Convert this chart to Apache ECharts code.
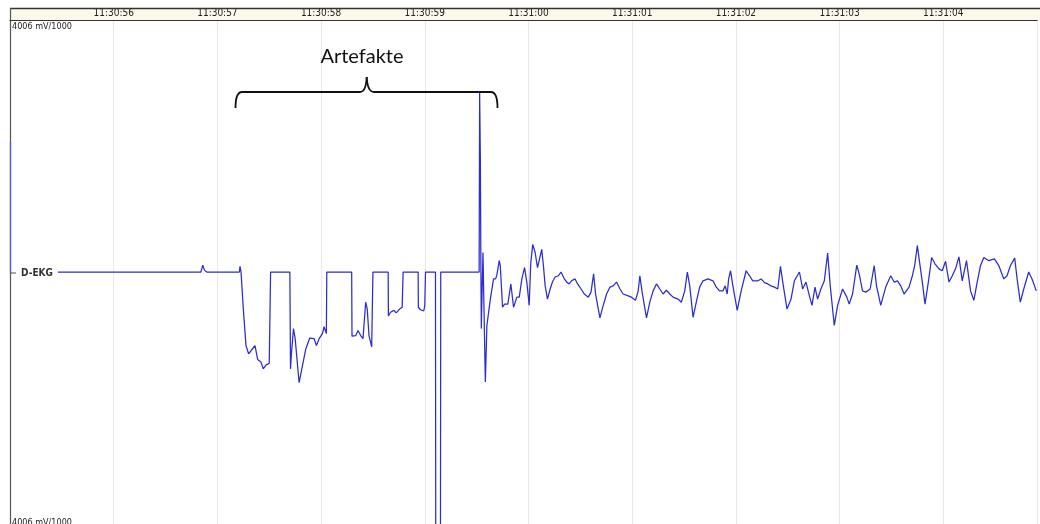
<!DOCTYPE html>
<html>
<head>
<meta charset="utf-8">
<script src="https://cdn.jsdelivr.net/npm/echarts@6/dist/echarts.min.js"></script>
<style>
html,body{margin:0;padding:0;background:#fff;}
#chart{width:1040px;height:524px;}
</style>
</head>
<body>
<div id="chart"></div>
<script>
// time in seconds after 11:30:00
var tickSeconds = [56, 57, 58, 59, 60, 61, 62, 63, 64];
var tickLabels = ['11:30:56','11:30:57','11:30:58','11:30:59','11:31:00','11:31:01','11:31:02','11:31:03','11:31:04'];
var channelName = 'D-EKG';
var scaleLabel = '4006 mV/1000';
var annotationLabel = 'Artefakte';
var scaleMax = 4.006;

var timeSec = [
55.462,56.841,56.859,56.875,56.897,57.212,57.218,57.228,57.250,57.276,
57.301,57.339,57.363,57.388,57.420,57.442,57.468,57.500,57.510,57.513,
57.699,57.705,57.714,57.734,57.750,57.788,57.853,57.891,57.933,57.955,
57.981,58.013,58.029,58.051,58.055,58.295,58.298,58.334,58.356,58.382,
58.404,58.430,58.445,58.462,58.488,58.500,58.647,58.649,58.670,58.702,
58.724,58.757,58.782,58.791,58.936,58.938,58.959,58.990,59.000,59.007,
59.103,59.106,59.151,59.154,59.524,59.529,59.536,59.541,59.545,59.561,
59.584,59.599,59.632,59.663,59.683,59.695,59.718,59.728,59.750,59.769,
59.801,59.830,59.856,59.888,59.911,59.936,59.962,59.984,60.007,60.022,
60.041,60.064,60.087,60.106,60.128,60.144,60.161,60.183,60.209,60.231,
60.257,60.288,60.314,60.346,60.368,60.391,60.416,60.449,60.474,60.507,
60.538,60.577,60.603,60.628,60.647,60.689,60.721,60.753,60.786,60.817,
60.849,60.882,60.913,60.962,60.993,61.032,61.058,61.074,61.096,61.138,
61.170,61.202,61.234,61.266,61.298,61.330,61.363,61.394,61.442,61.474,
61.507,61.532,61.555,61.587,61.618,61.651,61.683,61.731,61.779,61.811,
61.843,61.875,61.897,61.916,61.930,61.949,61.971,62.013,62.051,62.099,
62.132,62.163,62.212,62.243,62.276,62.308,62.339,62.372,62.404,62.430,
62.452,62.493,62.532,62.564,62.613,62.644,62.676,62.709,62.734,62.763,
62.788,62.820,62.853,62.885,62.910,62.949,62.981,63.029,63.070,63.093,
63.125,63.166,63.189,63.221,63.253,63.295,63.308,63.334,63.356,63.397,
63.445,63.493,63.526,63.558,63.590,63.622,63.670,63.702,63.724,63.750,
63.772,63.798,63.824,63.856,63.888,63.920,63.959,63.990,64.022,64.055,
64.087,64.118,64.151,64.183,64.224,64.263,64.295,64.327,64.359,64.391,
64.439,64.493,64.536,64.584,64.615,64.647,64.689,64.712,64.743,64.776,
64.824,64.856,64.897
];

var ekgMilliVolt = [
0,0,0.11,0.03,0,0,0.09,0,-0.59,-1.17,
-1.30,-1.22,-1.17,-1.39,-1.43,-1.54,-1.48,-1.45,-1.44,0,
0,-1.54,-1.30,-0.90,-1.06,-1.76,-1.22,-1.05,-1.06,-1.17,
-1.06,-0.98,-0.87,-0.98,0,0,-1.02,-1.01,-0.93,-1.01,
-1.06,-0.48,-0.59,-1.01,-1.19,0,0,-0.70,-0.64,-0.61,
-0.65,-0.59,-0.56,0,0,-0.56,-0.60,-0.62,-0.53,0,
0,-4.6,-4.6,0,0,2.85,1.79,0.10,-0.90,0.31,
-1.75,-0.85,-0.43,-0.11,-0.11,-0.05,0.18,0.10,-0.56,-0.51,
-0.51,-0.19,-0.56,-0.40,-0.40,-0.11,0.07,-0.16,-0.53,0.15,
0.44,0.31,0.07,0.10,0.36,0.10,-0.22,-0.43,-0.27,-0.16,
-0.08,-0.06,0.00,-0.11,-0.16,-0.19,-0.14,-0.11,-0.19,-0.27,
-0.35,-0.40,-0.32,-0.03,-0.35,-0.73,-0.53,-0.35,-0.24,-0.22,
-0.16,-0.27,-0.35,-0.38,-0.40,-0.45,-0.30,-0.06,-0.32,-0.73,
-0.48,-0.30,-0.19,-0.27,-0.35,-0.29,-0.35,-0.40,-0.43,-0.48,
-0.30,0.00,-0.22,-0.72,-0.48,-0.24,-0.14,-0.11,-0.14,-0.24,
-0.30,-0.30,-0.22,-0.35,-0.11,0.02,-0.22,-0.61,-0.30,0.02,
-0.06,-0.14,-0.14,-0.11,-0.17,-0.19,-0.22,-0.24,-0.27,0.09,
-0.16,-0.59,-0.43,-0.14,0.00,-0.27,-0.16,-0.38,-0.53,-0.24,
-0.43,-0.27,-0.14,0.30,-0.22,-0.85,-0.53,-0.27,-0.40,-0.51,
-0.35,0.11,-0.03,-0.30,-0.32,-0.27,-0.30,0.10,-0.22,-0.53,
-0.24,-0.06,-0.16,-0.14,-0.22,-0.35,-0.24,-0.06,0.10,0.42,
0.15,-0.16,-0.51,-0.16,0.23,0.13,0.05,0.02,0.17,-0.16,
-0.06,0.05,0.24,-0.14,0.18,-0.30,-0.45,-0.16,0.10,0.23,
0.18,0.21,0.10,-0.11,-0.06,0.10,0.22,-0.11,-0.48,-0.27,
0.00,-0.11,-0.30
];

var n = Math.min(timeSec.length, ekgMilliVolt.length);
var seriesData = [];
for (var i = 0; i < n; i++) seriesData.push([timeSec[i], ekgMilliVolt[i]]);

var labelFont = '"Liberation Sans Narrow", "DejaVu Sans Condensed", "Liberation Sans", sans-serif';
var bracketStyle = {stroke: '#111', lineWidth: 1.8, fill: null};

var chart = echarts.init(document.getElementById('chart'), null, {renderer: 'canvas'});
var option = {
  animation: false,
  backgroundColor: '#ffffff',
  grid: {left: 10, right: 0, top: 20, bottom: -2, containLabel: false},
  xAxis: {
    type: 'value',
    position: 'top',
    min: 55,
    max: 55 + 1030 / 104,
    interval: 1,
    axisLine: {show: true, onZero: false, lineStyle: {color: '#333', width: 1.2}},
    axisTick: {show: false},
    axisLabel: {
      show: true,
      margin: 2,
      fontSize: 10,
      fontFamily: labelFont,
      color: '#222',
      formatter: function (v) {
        var idx = tickSeconds.indexOf(Math.round(v * 1000) / 1000);
        return idx >= 0 ? tickLabels[idx] : '';
      }
    },
    splitLine: {show: true, lineStyle: {color: '#e9e9e9', width: 1}}
  },
  yAxis: {
    type: 'value',
    min: -scaleMax,
    max: scaleMax,
    axisLine: {show: true, onZero: false, lineStyle: {color: '#555', width: 1.2}},
    axisTick: {show: false},
    axisLabel: {show: false},
    splitLine: {show: false}
  },
  series: [{
    type: 'line',
    name: channelName,
    data: seriesData,
    showSymbol: false,
    symbol: 'none',
    clip: true,
    lineStyle: {color: '#2c2cd0', width: 1.25},
    z: 5
  }],
  graphic: [
    {type: 'rect', shape: {x: 10, y: 8, width: 1030, height: 12}, style: {fill: '#fcf8ea'}, z: 0, silent: true},
    {type: 'line', shape: {x1: 10, y1: 8.5, x2: 1040, y2: 8.5}, style: {stroke: '#333', lineWidth: 1.5}, z: 10},
    {type: 'line', shape: {x1: 10.5, y1: 8, x2: 10.5, y2: 20}, style: {stroke: '#555', lineWidth: 1.2}, z: 10},
    {type: 'line', shape: {x1: 10.5, y1: 142, x2: 10.5, y2: 273}, style: {stroke: '#5a5ad8', lineWidth: 1.3}, z: 11},
    {type: 'line', shape: {x1: 10, y1: 273, x2: 16, y2: 273}, style: {stroke: '#555', lineWidth: 1}, z: 11},
    {type: 'text', x: 21, y: 273, style: {text: channelName, font: 'bold 10px ' + labelFont, fill: '#333', verticalAlign: 'middle'}, z: 11},
    {type: 'text', x: 12, y: 22, style: {text: scaleLabel, font: '9px ' + labelFont, fill: '#222'}, z: 11},
    {type: 'text', x: 12, y: 518, style: {text: scaleLabel, font: '9px ' + labelFont, fill: '#222'}, z: 11},
    {type: 'text', x: 362, y: 57, style: {text: annotationLabel, font: '20px Lato, "Open Sans", sans-serif', fill: '#111', align: 'center', verticalAlign: 'middle'}, z: 12},
    {type: 'bezierCurve', shape: {x1: 235.5, y1: 108, cpx1: 235.5, cpy1: 92, x2: 242, y2: 92}, style: bracketStyle, z: 12},
    {type: 'line', shape: {x1: 242, y1: 92, x2: 360, y2: 92}, style: bracketStyle, z: 12},
    {type: 'bezierCurve', shape: {x1: 360, y1: 92, cpx1: 366, cpy1: 92, x2: 366.7, y2: 77}, style: bracketStyle, z: 12},
    {type: 'bezierCurve', shape: {x1: 366.7, y1: 77, cpx1: 367.5, cpy1: 92, x2: 374, y2: 92}, style: bracketStyle, z: 12},
    {type: 'line', shape: {x1: 374, y1: 92, x2: 491, y2: 92}, style: bracketStyle, z: 12},
    {type: 'bezierCurve', shape: {x1: 491, y1: 92, cpx1: 497.5, cpy1: 92, x2: 497.5, y2: 108}, style: bracketStyle, z: 12}
  ]
};
chart.setOption(option);
</script>
</body>
</html>
